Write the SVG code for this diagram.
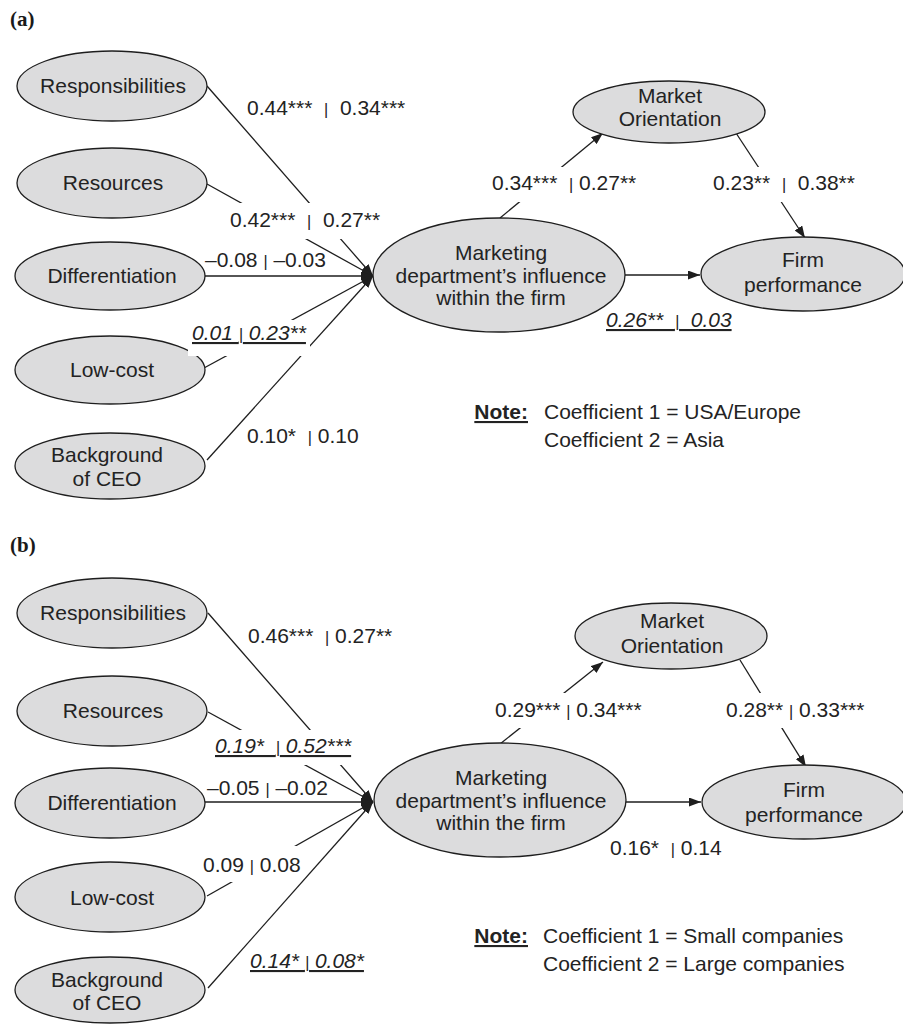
<svg xmlns="http://www.w3.org/2000/svg" width="903" height="1025" viewBox="0 0 903 1025">
<defs>
<style>
.node ellipse{fill:#dcdcdd;stroke:#1e1e1e;stroke-width:1.3}
.node text{font-family:"Liberation Sans",Arial,sans-serif;font-size:21px;fill:#232323;text-anchor:middle}
.conn line{stroke:#1e1e1e;stroke-width:1.3}
.lab{font-family:"Liberation Sans",Arial,sans-serif;font-size:21px;fill:#232323}
.it{font-style:italic;text-decoration:underline}
.bar{font-size:16px;fill:#1a1a1a}
.bg{fill:#ffffff}
.panel{font-family:"Liberation Serif","Times New Roman",serif;font-weight:bold;font-size:21px;fill:#1a1a1a}
.note{font-family:"Liberation Sans",Arial,sans-serif;font-size:21px;fill:#232323}
.nb{font-weight:bold;text-decoration:underline}
</style>
<marker id="ah" viewBox="0 0 12 9" refX="12" refY="4.5" markerWidth="12" markerHeight="9" markerUnits="userSpaceOnUse" orient="auto">
<path d="M0,0 L12,4.5 L0,9 z" fill="#1e1e1e"/>
</marker>
</defs>
<rect width="903" height="1025" fill="#ffffff"/>

<text class="panel" x="10" y="26">(a)</text>
<text class="panel" x="10" y="552">(b)</text>

<!-- connectors -->
<g id="connectors" class="conn">
<line x1="207" y1="86" x2="373" y2="276" marker-end="url(#ah)"/>
<line x1="207" y1="184" x2="373" y2="276" marker-end="url(#ah)"/>
<line x1="205" y1="276" x2="373" y2="276" marker-end="url(#ah)"/>
<line x1="204" y1="368" x2="373" y2="276" marker-end="url(#ah)"/>
<line x1="207" y1="460" x2="373" y2="276" marker-end="url(#ah)"/>
<line x1="500" y1="218" x2="603" y2="133" marker-end="url(#ah)"/>
<line x1="736" y1="133" x2="805" y2="238" marker-end="url(#ah)"/>
<line x1="625" y1="275" x2="700" y2="275" marker-end="url(#ah)"/>

<line x1="208" y1="613" x2="373" y2="802" marker-end="url(#ah)"/>
<line x1="208" y1="712" x2="373" y2="802" marker-end="url(#ah)"/>
<line x1="205" y1="802" x2="373" y2="802" marker-end="url(#ah)"/>
<line x1="207" y1="896" x2="373" y2="802" marker-end="url(#ah)"/>
<line x1="208" y1="988" x2="373" y2="802" marker-end="url(#ah)"/>
<line x1="500" y1="744" x2="603" y2="662" marker-end="url(#ah)"/>
<line x1="740" y1="660" x2="806" y2="767" marker-end="url(#ah)"/>
<line x1="626" y1="802" x2="701" y2="802" marker-end="url(#ah)"/>
</g>

<!-- nodes panel a -->
<g id="a-responsibilities" class="node"><ellipse cx="112" cy="86" rx="95" ry="35"/><text x="113" y="93">Responsibilities</text></g>
<g id="a-resources" class="node"><ellipse cx="112" cy="183" rx="95" ry="35"/><text x="113" y="190">Resources</text></g>
<g id="a-differentiation" class="node"><ellipse cx="110" cy="276" rx="95" ry="34"/><text x="112" y="283">Differentiation</text></g>
<g id="a-lowcost" class="node"><ellipse cx="110" cy="370" rx="95" ry="34"/><text x="112" y="377">Low-cost</text></g>
<g id="a-background" class="node"><ellipse cx="110" cy="466" rx="95" ry="33"/><text x="107" y="462">Background</text><text x="107" y="486">of CEO</text></g>
<g id="a-marketing" class="node"><ellipse cx="499" cy="275" rx="126" ry="57"/><text x="501" y="260">Marketing</text><text x="501" y="283">department’s influence</text><text x="501" y="305">within the firm</text></g>
<g id="a-market-orientation" class="node"><ellipse cx="669" cy="112" rx="96" ry="31"/><text x="670" y="103">Market</text><text x="670" y="126">Orientation</text></g>
<g id="a-firm-performance" class="node"><ellipse cx="803" cy="274" rx="102" ry="37"/><text x="803" y="267">Firm</text><text x="803" y="292">performance</text></g>

<!-- nodes panel b -->
<g id="b-responsibilities" class="node"><ellipse cx="112" cy="613" rx="95" ry="35"/><text x="113" y="620">Responsibilities</text></g>
<g id="b-resources" class="node"><ellipse cx="112" cy="711" rx="95" ry="35"/><text x="113" y="718">Resources</text></g>
<g id="b-differentiation" class="node"><ellipse cx="110" cy="803" rx="95" ry="35"/><text x="112" y="810">Differentiation</text></g>
<g id="b-lowcost" class="node"><ellipse cx="110" cy="897" rx="95" ry="35"/><text x="112" y="905">Low-cost</text></g>
<g id="b-background" class="node"><ellipse cx="110" cy="990" rx="95" ry="33"/><text x="107" y="987">Background</text><text x="107" y="1010">of CEO</text></g>
<g id="b-marketing" class="node"><ellipse cx="500" cy="800" rx="126" ry="57"/><text x="501" y="785">Marketing</text><text x="501" y="808">department’s influence</text><text x="501" y="830">within the firm</text></g>
<g id="b-market-orientation" class="node"><ellipse cx="671" cy="636" rx="96" ry="33"/><text x="672" y="628">Market</text><text x="672" y="653">Orientation</text></g>
<g id="b-firm-performance" class="node"><ellipse cx="804" cy="802" rx="102" ry="37"/><text x="804" y="797">Firm</text><text x="804" y="822">performance</text></g>

<!-- labels panel a -->
<g id="a-labels">
<rect class="bg" x="228" y="203" width="156" height="36"/>
<rect class="bg" x="188" y="320" width="122" height="36"/>
<rect class="bg" x="488" y="167" width="157" height="35"/>
<rect class="bg" x="710" y="167" width="150" height="35"/>
<text class="lab" x="247" y="115" xml:space="preserve">0.44***  <tspan class="bar">|</tspan>  0.34***</text>
<text class="lab" x="230" y="227" xml:space="preserve">0.42***  <tspan class="bar">|</tspan>  0.27**</text>
<text class="lab" x="205" y="267" xml:space="preserve">–0.08 <tspan class="bar">|</tspan> –0.03</text>
<text class="lab it" x="192" y="340" xml:space="preserve">0.01 <tspan class="bar">|</tspan> 0.23**</text>
<text class="lab" x="247" y="443" xml:space="preserve">0.10*  <tspan class="bar">|</tspan> 0.10</text>
<text class="lab" x="492" y="190" xml:space="preserve">0.34***  <tspan class="bar">|</tspan> 0.27**</text>
<text class="lab" x="713" y="190" xml:space="preserve">0.23**  <tspan class="bar">|</tspan>  0.38**</text>
<text class="lab it" x="606" y="327" xml:space="preserve">0.26**  <tspan class="bar">|</tspan>  0.03</text>
</g>

<!-- labels panel b -->
<g id="b-labels">
<rect class="bg" x="212" y="730" width="146" height="35"/>
<rect class="bg" x="200" y="846" width="100" height="36"/>
<rect class="bg" x="490" y="693" width="160" height="35"/>
<rect class="bg" x="722" y="693" width="148" height="35"/>
<text class="lab" x="248" y="643" xml:space="preserve">0.46***  <tspan class="bar">|</tspan> 0.27**</text>
<text class="lab it" x="215" y="753" xml:space="preserve">0.19*  <tspan class="bar">|</tspan> 0.52***</text>
<text class="lab" x="207" y="795" xml:space="preserve">–0.05 <tspan class="bar">|</tspan> –0.02</text>
<text class="lab" x="203" y="872" xml:space="preserve">0.09 <tspan class="bar">|</tspan> 0.08</text>
<text class="lab it" x="250" y="968" xml:space="preserve">0.14* <tspan class="bar">|</tspan> 0.08*</text>
<text class="lab" x="495" y="717" xml:space="preserve">0.29*** <tspan class="bar">|</tspan> 0.34***</text>
<text class="lab" x="726" y="717" xml:space="preserve">0.28** <tspan class="bar">|</tspan> 0.33***</text>
<text class="lab" x="610" y="855" xml:space="preserve">0.16*  <tspan class="bar">|</tspan> 0.14</text>
</g>

<!-- notes -->
<g id="a-note">
<text class="note nb" x="528" y="419" text-anchor="end">Note:</text>
<text class="note" x="544" y="419">Coefficient 1 = USA/Europe</text>
<text class="note" x="544" y="447">Coefficient 2 = Asia</text>
</g>
<g id="b-note">
<text class="note nb" x="528" y="943" text-anchor="end">Note:</text>
<text class="note" x="543" y="943">Coefficient 1 = Small companies</text>
<text class="note" x="543" y="971">Coefficient 2 = Large companies</text>
</g>
</svg>
